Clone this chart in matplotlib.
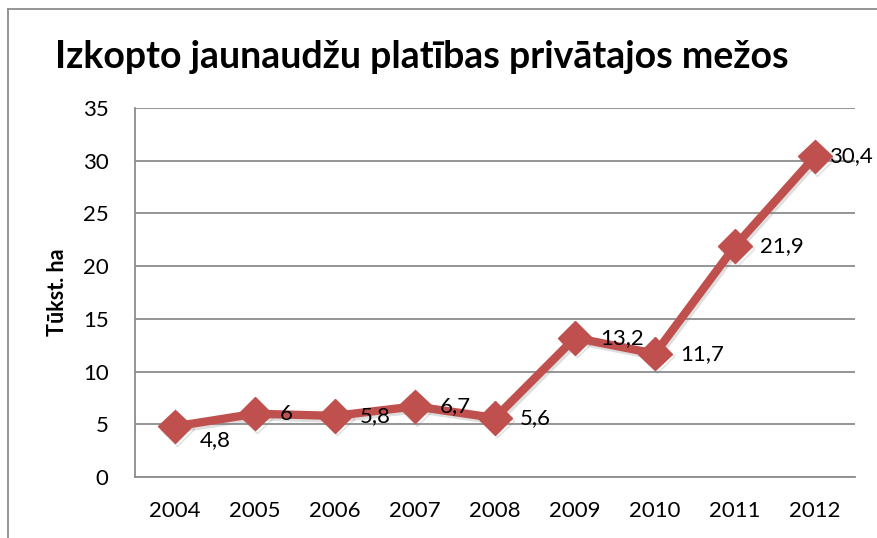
import matplotlib
matplotlib.use('Agg')
import matplotlib.pyplot as plt
import matplotlib.patheffects as pe
import numpy as np

plt.rcParams['font.family'] = ['Lato', 'DejaVu Sans']

years = ['2004', '2005', '2006', '2007', '2008', '2009', '2010', '2011', '2012']
area = [4.8, 6.0, 5.8, 6.7, 5.6, 13.2, 11.7, 21.9, 30.4]
labels = ['4,8', '6', '5,8', '6,7', '5,6', '13,2', '11,7', '21,9', '30,4']

red = '#C0504D'
grid_gray = '#8C8C8C'

fig = plt.figure(figsize=(8.77, 5.38), dpi=100)
ax = fig.add_axes([135 / 877, 1 - 477 / 538, 720 / 877, 369 / 538])

x = np.arange(len(years))
shadow = [pe.SimpleLineShadow(offset=(1.5, -2), shadow_color='#808080', alpha=0.25), pe.Normal()]
ax.plot(x, area, color=red, lw=6, marker='D', markersize=17,
        markerfacecolor=red, markeredgecolor=red, path_effects=shadow,
        solid_joinstyle='miter', zorder=3)

# data labels to the right of each point
for i, (v, t) in enumerate(zip(area, labels)):
    dx, dy = 18, 0
    if i == 0:
        dy = -10
    if i == len(area) - 1:
        dx = 10
    ax.annotate(t, (i, v), xytext=(dx, dy), textcoords='offset points',
                ha='left', va='center', fontsize=16, color='black', zorder=4)

ax.set_xlim(-0.5, len(years) - 0.5)
ax.set_ylim(0, 35)
ax.set_yticks(np.arange(0, 36, 5))
ax.set_xticks(x)
ax.set_xticklabels(years)
ax.tick_params(axis='both', length=0, labelsize=16)
ax.tick_params(axis='y', pad=19)
ax.tick_params(axis='x', pad=17)

ax.grid(axis='y', color=grid_gray, lw=1.3)
ax.set_axisbelow(True)
for s in ['top', 'right']:
    ax.spines[s].set_visible(False)
for s in ['left', 'bottom']:
    ax.spines[s].set_color(grid_gray)
    ax.spines[s].set_linewidth(1.3)

fig.text(58 / 877, 1 - 292 / 538, 'Tūkst. ha', rotation=90, ha='center', va='center',
         fontsize=15.5, fontweight='bold')
fig.text(422 / 877, 1 - 57 / 538, 'Izkopto jaunaudžu platības privātajos mežos',
         ha='center', va='center', fontsize=27, fontweight='bold')

# chart area border (cut by the image edge on right and bottom)
fig.add_artist(plt.Line2D([8 / 877, 1.0], [1 - 9 / 538, 1 - 9 / 538], color='#8C8C8C', lw=1.3))
fig.add_artist(plt.Line2D([8 / 877, 8 / 877], [0.0, 1 - 9 / 538], color='#8C8C8C', lw=1.3))

fig.savefig('out.png', dpi=100)
